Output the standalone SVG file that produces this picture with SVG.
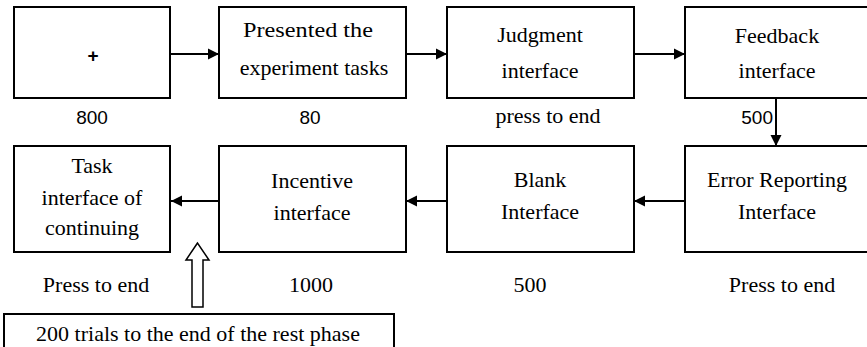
<svg xmlns="http://www.w3.org/2000/svg" width="867" height="347" viewBox="0 0 867 347">
<style>
.box{fill:#fff;stroke:#000;stroke-width:2}
.t{font-family:'Liberation Serif','DejaVu Serif','Times New Roman',serif;font-size:22px;fill:#000;text-anchor:middle}
.s{font-family:'Liberation Sans',Arial,sans-serif;font-size:19px;fill:#000;text-anchor:middle}
.c{stroke:#000;stroke-width:2;fill:none;marker-end:url(#ah)}
</style>
<defs>
<marker id="ah" markerUnits="userSpaceOnUse" markerWidth="12" markerHeight="12" refX="11" refY="6" orient="auto">
<path d="M0,0.5 L11,6 L0,11.5 Z" fill="#000"/>
</marker>
</defs>
<rect width="867" height="347" fill="#fff"/>
<g id="connectors">
<line class="c" x1="170" y1="54" x2="219" y2="54"/>
<line class="c" x1="406" y1="54" x2="447" y2="54"/>
<line class="c" x1="634" y1="54" x2="685" y2="54"/>
<line class="c" x1="776" y1="98" x2="776" y2="146"/>
<line class="c" x1="685" y1="201" x2="634" y2="201"/>
<line class="c" x1="447" y1="201" x2="406" y2="201"/>
<line class="c" x1="219" y1="201" x2="171" y2="201"/>
<polygon points="197.5,243 186,260 192,260 192,307 203,307 203,260 209,260" fill="#fff" stroke="#000" stroke-width="1.5"/>
</g>
<g id="fixation">
<rect class="box" x="14" y="7" width="156" height="91"/>
<text class="s" x="93" y="62" font-weight="bold" font-size="22">+</text>
<text class="s" x="92" y="124">800</text>
</g>
<g id="presented">
<rect class="box" x="219" y="7" width="187" height="91"/>
<text class="t" x="308" y="37" textLength="130" lengthAdjust="spacingAndGlyphs">Presented the</text>
<text class="t" x="314" y="75">experiment tasks</text>
<text class="s" x="310" y="124">80</text>
</g>
<g id="judgment">
<rect class="box" x="447" y="7" width="187" height="91"/>
<text class="t" x="540" y="42">Judgment</text>
<text class="t" x="540" y="78">interface</text>
<text class="t" x="548" y="123">press to end</text>
</g>
<g id="feedback">
<rect class="box" x="685" y="7" width="188" height="91"/>
<text class="t" x="777" y="43">Feedback</text>
<text class="t" x="777" y="78">interface</text>
<text class="s" x="773" y="124" style="text-anchor:end">500</text>
</g>
<g id="error">
<rect class="box" x="685" y="146" width="188" height="106"/>
<text class="t" x="777" y="187">Error Reporting</text>
<text class="t" x="777" y="219">Interface</text>
<text class="t" x="782" y="292">Press to end</text>
</g>
<g id="blank">
<rect class="box" x="447" y="146" width="187" height="106"/>
<text class="t" x="540" y="187">Blank</text>
<text class="t" x="540" y="219">Interface</text>
<text class="t" x="530" y="292">500</text>
</g>
<g id="incentive">
<rect class="box" x="219" y="146" width="187" height="106"/>
<text class="t" x="312" y="188">Incentive</text>
<text class="t" x="312" y="220">interface</text>
<text class="t" x="311" y="292">1000</text>
</g>
<g id="task">
<rect class="box" x="14" y="146" width="156" height="106"/>
<text class="t" x="92" y="173">Task</text>
<text class="t" x="92" y="205">interface of</text>
<text class="t" x="92" y="235">continuing</text>
<text class="t" x="96" y="292">Press to end</text>
</g>
<g id="rest">
<rect class="box" x="4" y="314" width="390" height="40"/>
<text class="t" x="198" y="341">200 trials to the end of the rest phase</text>
</g>
</svg>
